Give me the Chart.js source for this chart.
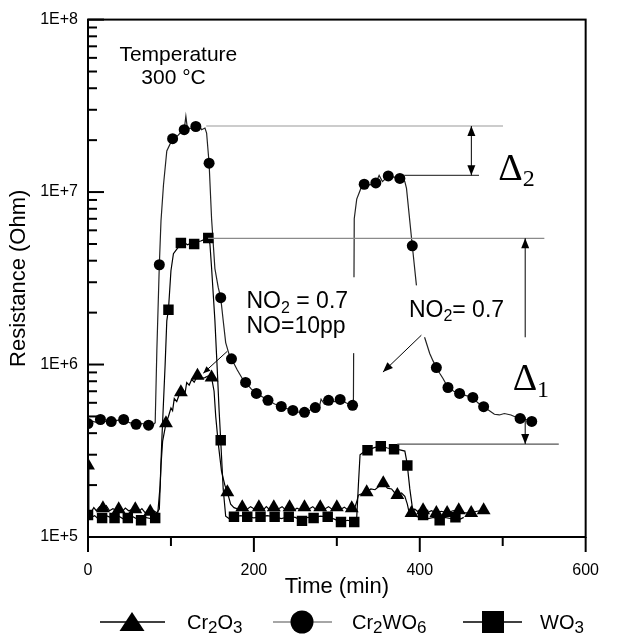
<!DOCTYPE html>
<html>
<head>
<meta charset="utf-8">
<script src="https://cdn.jsdelivr.net/npm/chart.js@4.4.1/dist/chart.umd.min.js"></script>
<style>
  html, body { margin: 0; padding: 0; background: #fff; }
  #chart { display: block; }
</style>
</head>
<body>
<canvas id="chart" width="623" height="634"></canvas>
<script>
// ================= DATA =================
// [time in min, resistance in Ohm]
const seriesNames = ['Cr2O3', 'Cr2WO6', 'WO3'];

const cr2wo6Curve = [
    [0, 4.55e5], [5, 4.7e5], [10, 4.62e5], [15, 4.8e5], [20, 4.7e5], [28, 4.67e5], [35, 4.75e5], [43, 4.8e5],
    [50, 4.6e5], [58, 4.5e5], [65, 4.55e5], [73, 4.45e5], [79, 4.5e5], [81, 4.6e5], [83, 1.2e6], [86, 3.79e6],
    [88, 6.8e6], [91, 1.1e7], [95, 1.73e7], [102, 2.04e7], [108, 2.12e7], [113, 2.25e7], [116, 2.3e7], [118, 2.75e7],
    [120, 2.3e7], [123, 2.35e7], [127, 2.3e7], [130, 2.4e7], [134, 2.45e7], [137, 2.3e7], [141, 2.35e7], [143, 2.2e7],
    [146, 1.47e7], [149, 7.0e6], [153, 3.6e6], [157, 2.8e6], [160, 2.44e6], [163, 1.8e6], [166, 1.34e6], [170, 1.15e6],
    [173, 1.08e6], [180, 9.3e5], [186, 8.3e5], [190, 7.87e5], [197, 7.2e5], [203, 6.8e5], [210, 6.5e5], [217, 6.2e5],
    [225, 5.9e5], [233, 5.71e5], [240, 5.55e5], [247, 5.42e5], [254, 5.3e5], [261, 5.28e5], [268, 5.45e5], [274, 5.63e5],
    [279, 5.7e5], [281, 6.3e5], [285, 5.9e5], [290, 6.2e5], [297, 6.1e5], [304, 6.28e5], [311, 6.0e5], [316, 5.85e5],
    [319, 5.8e5], [320, 5.9e5], [321, 7.0e6], [324, 9.1e6], [329, 1.05e7], [333, 1.11e7], [340, 1.1e7], [347, 1.13e7],
    [351, 1.25e7], [355, 1.15e7], [362, 1.24e7], [369, 1.22e7], [376, 1.2e7], [382, 1.15e7], [384, 1.05e7], [391, 4.88e6],
    [396, 2.87e6], [401, 2.0e6], [406, 1.43e6], [412, 1.16e6], [416, 1.05e6], [420, 9.6e5], [424, 8.9e5], [428, 8.3e5],
    [434, 7.36e5], [441, 7.0e5], [448, 6.8e5], [456, 6.6e5], [464, 6.45e5], [470, 6.0e5], [477, 5.7e5], [484, 5.4e5],
    [490, 5.15e5], [496, 5.1e5], [502, 5.2e5], [510, 5.1e5], [516, 4.95e5], [521, 4.87e5], [528, 4.8e5], [535, 4.68e5]
];
const cr2wo6Marks = [
    [0, 4.55e5], [15, 4.8e5], [28, 4.67e5], [43, 4.8e5], [58, 4.5e5], [73, 4.45e5], [86, 3.79e6], [102, 2.04e7],
    [116, 2.3e7], [130, 2.4e7], [146, 1.47e7], [160, 2.44e6], [173, 1.08e6], [190, 7.87e5], [203, 6.8e5], [217, 6.2e5],
    [233, 5.71e5], [247, 5.42e5], [261, 5.28e5], [274, 5.63e5], [290, 6.2e5], [304, 6.28e5], [319, 5.8e5], [333, 1.11e7],
    [347, 1.13e7], [362, 1.24e7], [376, 1.2e7], [391, 4.88e6], [420, 9.6e5], [434, 7.36e5], [448, 6.8e5], [464, 6.45e5],
    [477, 5.7e5], [521, 4.87e5], [535, 4.68e5]
];

const wo3Curve = [
    [0, 1.34e5], [4, 1.3e5], [8, 1.33e5], [12, 1.28e5], [17, 1.29e5], [22, 1.33e5], [27, 1.3e5], [32, 1.29e5],
    [37, 1.32e5], [42, 1.28e5], [48, 1.29e5], [53, 1.32e5], [58, 1.28e5], [64, 1.25e5], [69, 1.3e5], [75, 1.28e5],
    [81, 1.29e5], [84, 1.35e5], [87, 2.0e5], [89, 3.64e5], [93, 1.0e6], [95, 1.79e6], [97, 2.08e6], [100, 3.5e6],
    [103, 4.39e6], [108, 4.73e6], [112, 5.07e6], [116, 5.1e6], [120, 4.95e6], [124, 5.05e6], [128, 5.0e6], [132, 5.15e6],
    [136, 5.2e6], [140, 5.3e6], [145, 5.42e6], [147, 5.0e6], [149, 3.63e6], [153, 1.8e6], [156, 9.0e5], [158, 5.5e5],
    [160, 3.64e5], [163, 1.9e5], [166, 1.32e5], [170, 1.28e5], [176, 1.31e5], [184, 1.33e5], [192, 1.31e5], [200, 1.29e5],
    [208, 1.31e5], [216, 1.33e5], [225, 1.31e5], [233, 1.28e5], [242, 1.31e5], [250, 1.3e5], [258, 1.24e5], [265, 1.3e5],
    [272, 1.29e5], [280, 1.32e5], [289, 1.31e5], [297, 1.27e5], [305, 1.22e5], [313, 1.25e5], [321, 1.22e5], [324, 1.3e5],
    [326, 2.0e5], [328, 3.0e5], [332, 3.1e5], [337, 3.18e5], [345, 3.3e5], [353, 3.36e5], [361, 3.28e5], [369, 3.23e5],
    [376, 3.2e5], [382, 3.15e5], [384, 2.8e5], [385, 2.6e5], [388, 1.9e5], [391, 1.49e5], [395, 1.32e5], [400, 1.3e5],
    [404, 1.34e5], [410, 1.28e5], [417, 1.3e5], [424, 1.25e5], [430, 1.3e5], [437, 1.28e5], [443, 1.3e5], [449, 1.27e5],
    [453, 1.3e5]
];
const wo3Marks = [
    [0, 1.34e5], [17, 1.29e5], [32, 1.29e5], [48, 1.29e5], [64, 1.25e5], [81, 1.29e5], [97, 2.08e6], [112, 5.07e6],
    [128, 5.0e6], [145, 5.42e6], [160, 3.64e5], [176, 1.31e5], [192, 1.31e5], [208, 1.31e5], [225, 1.31e5], [242, 1.31e5],
    [258, 1.24e5], [272, 1.29e5], [289, 1.31e5], [305, 1.22e5], [321, 1.22e5], [337, 3.18e5], [353, 3.36e5], [369, 3.23e5],
    [385, 2.6e5], [404, 1.34e5], [424, 1.25e5], [443, 1.3e5]
];

const cr2o3Curve = [
    [0, 2.6e5], [1, 1.35e5], [4, 1.4e5], [7, 1.48e5], [10, 1.42e5], [14, 1.5e5], [18, 1.47e5], [22, 1.52e5],
    [26, 1.42e5], [30, 1.46e5], [34, 1.43e5], [37, 1.45e5], [41, 1.4e5], [45, 1.47e5], [49, 1.42e5], [53, 1.44e5],
    [57, 1.45e5], [61, 1.4e5], [65, 1.46e5], [69, 1.38e5], [72, 1.43e5], [75, 1.4e5], [79, 1.42e5], [83, 1.38e5],
    [86, 1.45e5], [88, 2.6e5], [90, 3.6e5], [94, 4.56e5], [97, 5.0e5], [100, 5.6e5], [102, 5.4e5], [104, 6.35e5],
    [107, 6.1e5], [110, 6.7e5], [112, 6.9e5], [115, 7.1e5], [117, 6.8e5], [119, 7.87e5], [122, 7.6e5], [125, 8.2e5],
    [128, 7.9e5], [132, 8.6e5], [136, 8.3e5], [141, 8.4e5], [145, 8.6e5], [149, 8.4e5], [152, 7.0e5], [154, 5.0e5],
    [157, 3.5e5], [161, 2.4e5], [165, 2.0e5], [168, 1.82e5], [172, 1.55e5], [176, 1.48e5], [181, 1.45e5], [186, 1.49e5],
    [191, 1.44e5], [196, 1.5e5], [201, 1.45e5], [206, 1.49e5], [211, 1.43e5], [215, 1.5e5], [219, 1.44e5], [224, 1.49e5],
    [229, 1.45e5], [234, 1.5e5], [238, 1.44e5], [243, 1.49e5], [248, 1.43e5], [252, 1.47e5], [256, 1.44e5], [261, 1.49e5],
    [266, 1.45e5], [271, 1.5e5], [275, 1.44e5], [280, 1.49e5], [285, 1.45e5], [290, 1.5e5], [295, 1.44e5], [300, 1.49e5],
    [305, 1.45e5], [309, 1.49e5], [313, 1.44e5], [318, 1.47e5], [321, 1.45e5], [324, 1.6e5], [326, 1.75e5], [330, 1.78e5],
    [336, 1.82e5], [341, 1.9e5], [346, 1.88e5], [351, 1.97e5], [356, 2.05e5], [361, 1.92e5], [366, 1.9e5], [370, 1.8e5],
    [373, 1.75e5], [378, 1.8e5], [382, 1.72e5], [385, 1.55e5], [387, 1.4e5], [390, 1.38e5], [394, 1.45e5], [398, 1.4e5],
    [404, 1.43e5], [409, 1.38e5], [414, 1.42e5], [420, 1.38e5], [426, 1.41e5], [433, 1.38e5], [440, 1.42e5], [447, 1.43e5],
    [454, 1.38e5], [462, 1.38e5], [469, 1.41e5], [477, 1.43e5]
];
const cr2o3Marks = [
    [0, 2.6e5], [18, 1.47e5], [37, 1.45e5], [57, 1.45e5], [75, 1.4e5], [94, 4.56e5], [112, 6.9e5], [132, 8.6e5],
    [149, 8.4e5], [168, 1.82e5], [186, 1.49e5], [206, 1.49e5], [224, 1.49e5], [243, 1.49e5], [261, 1.49e5], [280, 1.49e5],
    [300, 1.49e5], [318, 1.47e5], [336, 1.82e5], [356, 2.05e5], [373, 1.75e5], [390, 1.38e5], [404, 1.43e5], [420, 1.38e5],
    [433, 1.38e5], [447, 1.43e5], [462, 1.38e5], [477, 1.43e5]
];

// y ticks: every decade plus 2..9 in between
const yTickValues = [];
for (let e = 5; e < 8; e++) for (let m = 1; m < 10; m++) yTickValues.push(m * Math.pow(10, e));
yTickValues.push(1e8);

// ================= STYLE =================
const SANS = '"Liberation Sans", Arial, sans-serif';
const SERIF = '"Liberation Serif", "Times New Roman", serif';
Chart.defaults.font.family = SANS;
Chart.defaults.color = '#000';

const toXY = arr => arr.map(p => ({ x: p[0], y: p[1] }));

function decadeLabel(v) {
    const e = Math.round(Math.log10(v));
    return Math.abs(v - Math.pow(10, e)) < 1e-6 * v ? '1E+' + e : '';
}

function markerSet(label, data, style, radius) {
    return {
        label, data: toXY(data), showLine: false, pointStyle: style, pointRadius: radius,
        backgroundColor: '#000', borderColor: '#000', borderWidth: 0
    };
}
function lineSet(label, data, color) {
    return {
        label, data: toXY(data), showLine: true, pointRadius: 0, borderColor: color,
        borderWidth: 1.2, tension: 0, fill: false
    };
}

// ================= ANNOTATIONS =================
// positions in (time, log10 R)
const refLines = [
    [142.5, 500.4, 7.383, '#9a9a9a'],
    [381.1, 471.4, 7.097, '#444'],
    [144.8, 550.2, 6.732, '#8a8a8a'],
    [372.9, 567.6, 5.539, '#555']
];

function P(chart, t, l) {
    return { x: chart.scales.x.getPixelForValue(t), y: chart.scales.y.getPixelForValue(Math.pow(10, l)) };
}

function line(ctx, a, b) {
    ctx.beginPath(); ctx.moveTo(a.x, a.y); ctx.lineTo(b.x, b.y); ctx.stroke();
}

function arrowHead(ctx, tip, from, len, half) {
    const ang = Math.atan2(tip.y - from.y, tip.x - from.x);
    const bx = tip.x - Math.cos(ang) * len, by = tip.y - Math.sin(ang) * len;
    const nx = -Math.sin(ang) * half, ny = Math.cos(ang) * half;
    ctx.beginPath();
    ctx.moveTo(tip.x, tip.y);
    ctx.lineTo(bx + nx, by + ny);
    ctx.lineTo(bx - nx, by - ny);
    ctx.closePath();
    ctx.fill();
}

// parts: [text, isSub]
function rich(ctx, parts, x, y, size, subSize, shift, family, align) {
    let w = 0;
    parts.forEach(([s, sub]) => { ctx.font = (sub ? subSize : size) + 'px ' + family; w += ctx.measureText(s).width; });
    let cx = align === 'center' ? x - w / 2 : x;
    ctx.textAlign = 'left';
    ctx.textBaseline = 'alphabetic';
    parts.forEach(([s, sub]) => {
        ctx.font = (sub ? subSize : size) + 'px ' + family;
        ctx.fillText(s, cx, y + (sub ? shift : 0));
        cx += ctx.measureText(s).width;
    });
}

function drawMarker(ctx, style, x, y, r) {
    ctx.beginPath();
    if (style === 'triangle') {
        ctx.moveTo(x, y - r);
        ctx.lineTo(x + r * 1.25, y + r * 0.9);
        ctx.lineTo(x - r * 1.25, y + r * 0.9);
        ctx.closePath();
    } else if (style === 'circle') {
        ctx.arc(x, y, r, 0, Math.PI * 2);
    } else {
        ctx.rect(x - r, y - r, r * 2, r * 2);
    }
    ctx.fill();
}

const legendItems = [
    { parts: [['Cr', 0], ['2', 1], ['O', 0], ['3', 1]], style: 'triangle', r: 10, line: '#000', x0: 100, x1: 165, mx: 132, tx: 187 },
    { parts: [['Cr', 0], ['2', 1], ['WO', 0], ['6', 1]], style: 'circle', r: 11.5, line: '#888', x0: 273, x1: 332, mx: 302, tx: 352 },
    { parts: [['WO', 0], ['3', 1]], style: 'rect', r: 11, line: '#000', x0: 463, x1: 522, mx: 493, tx: 540 }
];

const decorPlugin = {
    id: 'decor',
    afterDraw(chart) {
        const ctx = chart.ctx;
        const a = chart.chartArea;
        const xs = chart.scales.x, ys = chart.scales.y;
        ctx.save();

        // white boxes behind the gas labels
        ctx.fillStyle = '#fff';
        [[181.9, 323.2, 6.506, 6.066], [382.3, 500.4, 6.459, 6.158]].forEach(b => {
            const p0 = P(chart, b[0], b[2]), p1 = P(chart, b[1], b[3]);
            ctx.fillRect(p0.x, p0.y, p1.x - p0.x, p1.y - p0.y);
        });

        // reference lines
        ctx.lineWidth = 1.2;
        refLines.forEach(r => {
            ctx.strokeStyle = r[3];
            line(ctx, P(chart, r[0], r[2]), P(chart, r[1], r[2]));
        });

        // delta arrows
        ctx.strokeStyle = '#000';
        ctx.fillStyle = '#000';
        ctx.lineWidth = 1;
        const d2a = P(chart, 462.2, 7.383), d2b = P(chart, 462.2, 7.097);
        line(ctx, d2a, d2b);
        arrowHead(ctx, d2a, d2b, 10, 4);
        arrowHead(ctx, d2b, d2a, 10, 4);
        const d1a = P(chart, 527.1, 6.732), d1m = P(chart, 527.1, 6.158);
        const d1n = P(chart, 527.1, 5.695), d1b = P(chart, 527.1, 5.539);
        line(ctx, d1a, d1m);
        line(ctx, d1n, d1b);
        arrowHead(ctx, d1a, d1m, 10, 4);
        arrowHead(ctx, d1b, d1n, 10, 4);

        // pointers from the gas labels
        const q0 = P(chart, 168.0, 6.077), q1 = P(chart, 139.0, 5.950);
        line(ctx, q0, q1);
        arrowHead(ctx, q1, q0, 7, 3);
        const r0 = P(chart, 401.9, 6.170), r1 = P(chart, 355.6, 5.956);
        line(ctx, r0, r1);
        arrowHead(ctx, r1, r0, 10, 4);

        // texts
        ctx.fillStyle = '#000';
        let p = P(chart, 108.9, 7.762);
        rich(ctx, [['Temperature', 0]], p.x, p.y, 21, 21, 0, SANS, 'center');
        p = P(chart, 103.1, 7.629);
        rich(ctx, [['300 \u00B0C', 0]], p.x, p.y, 21, 21, 0, SANS, 'center');
        p = P(chart, 191.1, 6.326);
        rich(ctx, [['NO', 0], ['2', 1], [' = 0.7', 0]], p.x, p.y, 23, 16, 5, SANS, 'left');
        p = P(chart, 191.1, 6.181);
        rich(ctx, [['NO=10pp', 0]], p.x, p.y, 23, 16, 0, SANS, 'left');
        p = P(chart, 386.9, 6.274);
        rich(ctx, [['NO', 0], ['2', 1], ['= 0.7', 0]], p.x, p.y, 23, 16, 4, SANS, 'left');
        p = P(chart, 494.6, 7.068);
        rich(ctx, [['\u0394', 0], ['2', 1]], p.x, p.y, 38, 24, 6, SERIF, 'left');
        p = P(chart, 512.0, 5.851);
        rich(ctx, [['\u0394', 0], ['1', 1]], p.x, p.y, 38, 24, 7, SERIF, 'left');

        // axis ticks: y inward, x outward
        ctx.strokeStyle = '#000';
        ctx.lineWidth = 2;
        yTickValues.forEach(v => {
            const py = ys.getPixelForValue(v);
            line(ctx, { x: a.left, y: py }, { x: a.left + (decadeLabel(v) ? 16 : 9), y: py });
        });
        xs.ticks.forEach(t => {
            const px = xs.getPixelForValue(t.value);
            line(ctx, { x: px, y: a.bottom }, { x: px, y: a.bottom + (t.value % 200 === 0 ? 15 : 9) });
        });
        ctx.strokeRect(a.left, a.top, a.right - a.left, a.bottom - a.top);

        // legend
        const ly = 622;
        legendItems.forEach(it => {
            ctx.strokeStyle = it.line;
            ctx.lineWidth = 1.5;
            line(ctx, { x: it.x0, y: ly }, { x: it.x1, y: ly });
            ctx.fillStyle = '#000';
            drawMarker(ctx, it.style, it.mx, ly, it.r);
            rich(ctx, it.parts, it.tx, 629, 20, 17, 4, SANS, 'left');
        });

        ctx.restore();
    }
};

// ================= CHART =================
new Chart(document.getElementById('chart'), {
    type: 'scatter',
    data: {
        datasets: [
            markerSet(seriesNames[0], cr2o3Marks, 'triangle', 8),
            markerSet(seriesNames[1], cr2wo6Marks, 'circle', 5.5),
            markerSet(seriesNames[2], wo3Marks, 'rect', 7.4),
            lineSet(seriesNames[0], cr2o3Curve, '#000'),
            lineSet(seriesNames[1], cr2wo6Curve, '#222'),
            lineSet(seriesNames[2], wo3Curve, '#000')
        ]
    },
    options: {
        responsive: false,
        animation: false,
        devicePixelRatio: 1,
        layout: { padding: { top: 19, right: 17, bottom: 34, left: 0 } },
        plugins: { legend: { display: false }, tooltip: { enabled: false } },
        scales: {
            x: {
                type: 'linear', min: 0, max: 600,
                grid: { display: false, drawTicks: false },
                border: { display: false },
                ticks: {
                    stepSize: 100, autoSkip: false, maxRotation: 0, padding: 24,
                    color: '#000', font: { size: 16 },
                    callback: v => (v % 200 === 0 ? String(v) : '')
                },
                title: { display: true, text: 'Time (min)', color: '#000', font: { size: 22 }, padding: { top: 0, bottom: 0 } },
                afterFit: s => { s.height = 63; }
            },
            y: {
                type: 'logarithmic', min: 1e5, max: 1e8,
                grid: { display: false, drawTicks: false },
                border: { display: false },
                afterBuildTicks: s => { s.ticks = yTickValues.map(v => ({ value: v })); },
                ticks: {
                    autoSkip: false, padding: 10, color: '#000', font: { size: 16 },
                    callback: v => decadeLabel(v)
                },
                title: { display: true, text: 'Resistance (Ohm)', color: '#000', font: { size: 22 }, padding: { top: 6, bottom: 0 } },
                afterFit: s => { s.width = 88; }
            }
        }
    },
    plugins: [decorPlugin]
});
</script>
</body>
</html>
